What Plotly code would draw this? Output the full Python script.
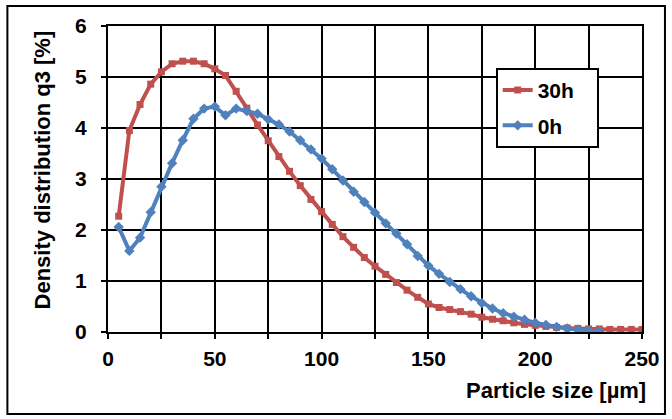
import plotly.graph_objects as go

size_30h = [5, 10, 15, 20, 25, 30, 35, 40, 45, 50, 55, 60, 65, 70, 75, 80, 85, 90, 95, 100,
            105, 110, 115, 120, 125, 130, 135, 140, 145, 150, 155, 160, 165, 170, 175, 180,
            185, 190, 195, 200, 205, 210, 215, 220, 225, 230, 235, 240, 245, 250]
q3_30h = [2.27, 3.95, 4.46, 4.86, 5.10, 5.26, 5.31, 5.31, 5.26, 5.16, 5.03, 4.72, 4.39, 4.06,
          3.75, 3.44, 3.15, 2.87, 2.60, 2.36, 2.11, 1.87, 1.66, 1.46, 1.29, 1.13, 0.97, 0.82,
          0.68, 0.55, 0.48, 0.44, 0.40, 0.35, 0.29, 0.25, 0.22, 0.18, 0.15, 0.13, 0.11, 0.09,
          0.08, 0.07, 0.06, 0.06, 0.05, 0.05, 0.05, 0.05]

size_0h = [5, 10, 15, 20, 25, 30, 35, 40, 45, 50, 55, 60, 65, 70, 75, 80, 85, 90, 95, 100,
           105, 110, 115, 120, 125, 130, 135, 140, 145, 150, 155, 160, 165, 170, 175, 180,
           185, 190, 195, 200, 205, 210, 215, 220, 225, 230]
q3_0h = [2.06, 1.59, 1.85, 2.35, 2.85, 3.31, 3.76, 4.18, 4.38, 4.42, 4.25, 4.38, 4.33, 4.28,
         4.17, 4.07, 3.93, 3.76, 3.58, 3.40, 3.19, 2.97, 2.75, 2.55, 2.34, 2.13, 1.93, 1.72,
         1.49, 1.30, 1.14, 0.98, 0.84, 0.70, 0.57, 0.46, 0.37, 0.30, 0.24, 0.18, 0.14, 0.10,
         0.07, 0.05, 0.03, 0.01]

x_ticks = [0, 50, 100, 150, 200, 250]
y_ticks = [0, 1, 2, 3, 4, 5, 6]

RED = "#C0504D"
BLUE = "#4F81BD"
FONT = "Liberation Sans"

fig = go.Figure()
fig.add_trace(go.Scatter(
    x=size_30h, y=q3_30h, name="<b>30h</b>&nbsp;&nbsp;&nbsp;", mode="lines+markers",
    line=dict(color=RED, width=4), marker=dict(symbol="square", size=7, color=RED),
    legendgroup="a"))
fig.add_trace(go.Scatter(
    x=size_0h, y=q3_0h, name="<b>0h</b>", mode="lines+markers",
    line=dict(color=BLUE, width=4), marker=dict(symbol="diamond", size=8, color=BLUE),
    legendgroup="b"))

axis_common = dict(
    showline=True, linecolor="black", linewidth=2, mirror=True,
    showgrid=True, gridcolor="black", gridwidth=1.8,
    ticks="outside", ticklen=5, tickwidth=1.5, tickcolor="black",
    zeroline=False,
    tickfont=dict(family=FONT, size=21, color="black", weight="bold"),
)

fig.update_xaxes(range=[0, 250], tickvals=x_ticks, ticklabelstandoff=2,
                 minor=dict(dtick=25, tick0=0, showgrid=True, gridcolor="black",
                            gridwidth=1.8, ticks="outside", ticklen=5, tickcolor="black"),
                 **axis_common)
fig.update_yaxes(range=[0, 6], tickvals=y_ticks, ticklabelstandoff=10, **axis_common)

fig.add_annotation(text="<b>Particle size [µm]</b>", xref="paper", yref="paper",
                   x=1.011, y=-0.19, xanchor="right", yanchor="middle", showarrow=False,
                   font=dict(family=FONT, size=22, color="black"))
fig.add_annotation(text="<b>Density distribution q3 [%]</b>", xref="paper", yref="paper",
                   x=-0.123, y=0.529, xanchor="center", yanchor="middle", textangle=-90,
                   showarrow=False, font=dict(family=FONT, size=22, color="black"))

fig.add_shape(type="rect", xref="paper", yref="paper",
              x0=-0.1884, x1=1.043, y0=-0.268, y1=1.0654,
              line=dict(color="black", width=2), fillcolor="rgba(0,0,0,0)")

fig.update_layout(
    width=672, height=419,
    margin=dict(l=108, r=28, t=26, b=87),
    paper_bgcolor="white", plot_bgcolor="white",
    showlegend=True,
    legend=dict(x=0.726, y=0.863, xanchor="left", yanchor="top",
                bgcolor="white", bordercolor="black", borderwidth=2,
                traceorder="grouped", tracegroupgap=5,
                font=dict(family=FONT, size=21, color="black")),
)

fig.write_html("out.html", config={"displayModeBar": False},
               post_script="document.body.style.margin='0px';")
